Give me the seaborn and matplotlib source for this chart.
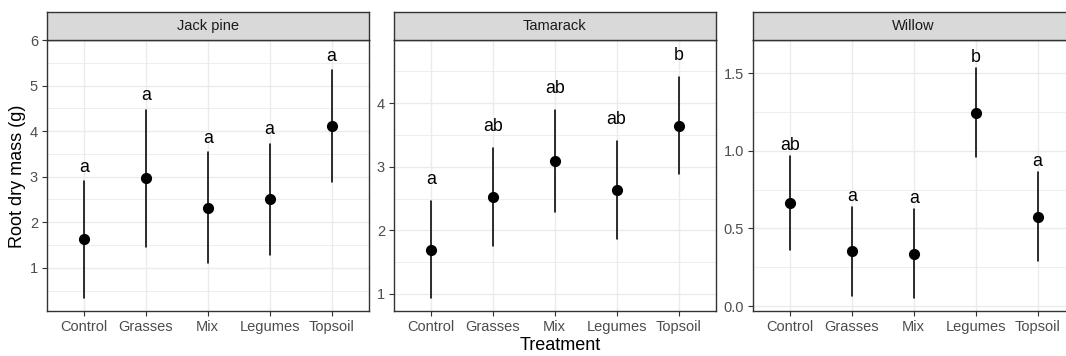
import numpy as np
import pandas as pd
import matplotlib
matplotlib.use("Agg")
import matplotlib.pyplot as plt
import seaborn as sns

sns.set_theme(style="white")
plt.rcParams['font.family'] = ['Liberation Sans', 'DejaVu Sans']

# ---------------- data ----------------
treatments = ["Control", "Grasses", "Mix", "Legumes", "Topsoil"]
species = ["Jack pine", "Tamarack", "Willow"]

jack_mean = [1.63, 2.98, 2.31, 2.51, 4.12]
jack_low = [0.33, 1.46, 1.10, 1.28, 2.89]
jack_high = [2.90, 4.47, 3.54, 3.72, 5.34]
jack_letters = ["a", "a", "a", "a", "a"]

tam_mean = [1.69, 2.52, 3.09, 2.63, 3.64]
tam_low = [0.93, 1.76, 2.29, 1.87, 2.88]
tam_high = [2.46, 3.30, 3.89, 3.41, 4.41]
tam_letters = ["a", "ab", "ab", "ab", "b"]

wil_mean = [0.662, 0.355, 0.335, 1.246, 0.576]
wil_low = [0.361, 0.066, 0.050, 0.959, 0.290]
wil_high = [0.967, 0.638, 0.623, 1.535, 0.864]
wil_letters = ["ab", "a", "a", "b", "a"]

panels = [
    dict(name="Jack pine", mean=jack_mean, low=jack_low, high=jack_high, letters=jack_letters,
         ylim=(0.05, 6.0), major=[1, 2, 3, 4, 5, 6], fmt="{:g}", pad=9.5),
    dict(name="Tamarack", mean=tam_mean, low=tam_low, high=tam_high, letters=tam_letters,
         ylim=(0.73, 4.995), major=[1, 2, 3, 4], fmt="{:g}", pad=17),
    dict(name="Willow", mean=wil_mean, low=wil_low, high=wil_high, letters=wil_letters,
         ylim=(-0.032, 1.715), major=[0.0, 0.5, 1.0, 1.5], fmt="{:.1f}", pad=6),
]

# ---------------- layout (pixels) ----------------
W, H = 1066, 356
fig = plt.figure(figsize=(W / 100, H / 100), dpi=100)
lefts = [46.7, 393.7, 752.7]
pw = 322
ax_top, ax_bot = 40, 311
strip_top = 12

border = "#333333"
grid_major = "#EBEBEB"

for left, p in zip(lefts, panels):
    ax = fig.add_axes([left / W, (H - ax_bot) / H, pw / W, (ax_bot - ax_top) / H])
    df = pd.DataFrame({
        "Treatment": treatments * 3,
        "value": list(p["low"]) + list(p["mean"]) + list(p["high"]),
    })
    df["Treatment"] = pd.Categorical(df["Treatment"], categories=treatments, ordered=True)
    sns.pointplot(data=df, x="Treatment", y="value", estimator="median",
                  errorbar=lambda v: (v.min(), v.max()), color="black",
                  linestyle="none", marker="o", markersize=6.0,
                  err_kws={"linewidth": 1.15}, ax=ax, zorder=3)
    ax.set_xlim(-0.6, 4.6)
    ax.set_ylim(*p["ylim"])
    major = p["major"]
    step = major[1] - major[0]
    minor = [m - step / 2 for m in major] + [major[-1] + step / 2]
    minor = [m for m in minor if p["ylim"][0] < m < p["ylim"][1]]
    ax.set_yticks(major)
    ax.set_yticklabels([p["fmt"].format(v) for v in major])
    ax.set_yticks(minor, minor=True)
    ax.set_xticks(range(len(treatments)))
    ax.set_xticklabels(treatments)
    ax.grid(True, which="major", color=grid_major, linewidth=1.0, zorder=0)
    ax.grid(True, which="minor", axis="y", color=grid_major, linewidth=0.6, zorder=0)
    ax.set_axisbelow(True)
    ax.set_xlabel("")
    ax.set_ylabel("")
    for s in ax.spines.values():
        s.set_color(border)
        s.set_linewidth(1.0)
        s.set_visible(True)
    ax.tick_params(axis="both", which="major", length=3.8, width=0.8, color=border,
                   labelcolor="#4D4D4D", labelsize=10.5, pad=2.5, direction="out",
                   bottom=True, left=True)
    ax.tick_params(axis="y", which="minor", length=0, left=False)
    for i, (hi, lab) in enumerate(zip(p["high"], p["letters"])):
        ax.annotate(lab, xy=(i, hi), xytext=(0, p["pad"]), textcoords="offset pixels",
                    ha="center", va="baseline", fontsize=12.8, color="black")
    # strip
    sax = fig.add_axes([left / W, (H - ax_top) / H, pw / W, (ax_top - strip_top) / H])
    sax.set_facecolor("#D9D9D9")
    sax.set_xticks([])
    sax.set_yticks([])
    for s in sax.spines.values():
        s.set_color(border)
        s.set_linewidth(1.0)
        s.set_visible(True)
    sax.text(0.5, 0.5, p["name"], transform=sax.transAxes, ha="center", va="center",
             fontsize=10.5, color="#1A1A1A")

fig.text(17.5 / W, (H - 176) / H, "Root dry mass (g)", rotation=90, ha="center", va="center",
         fontsize=13, color="black")
fig.text(560.5 / W, (H - 346) / H, "Treatment", ha="center", va="center",
         fontsize=13, color="black")

fig.savefig("out.png", dpi=100, facecolor="white")
